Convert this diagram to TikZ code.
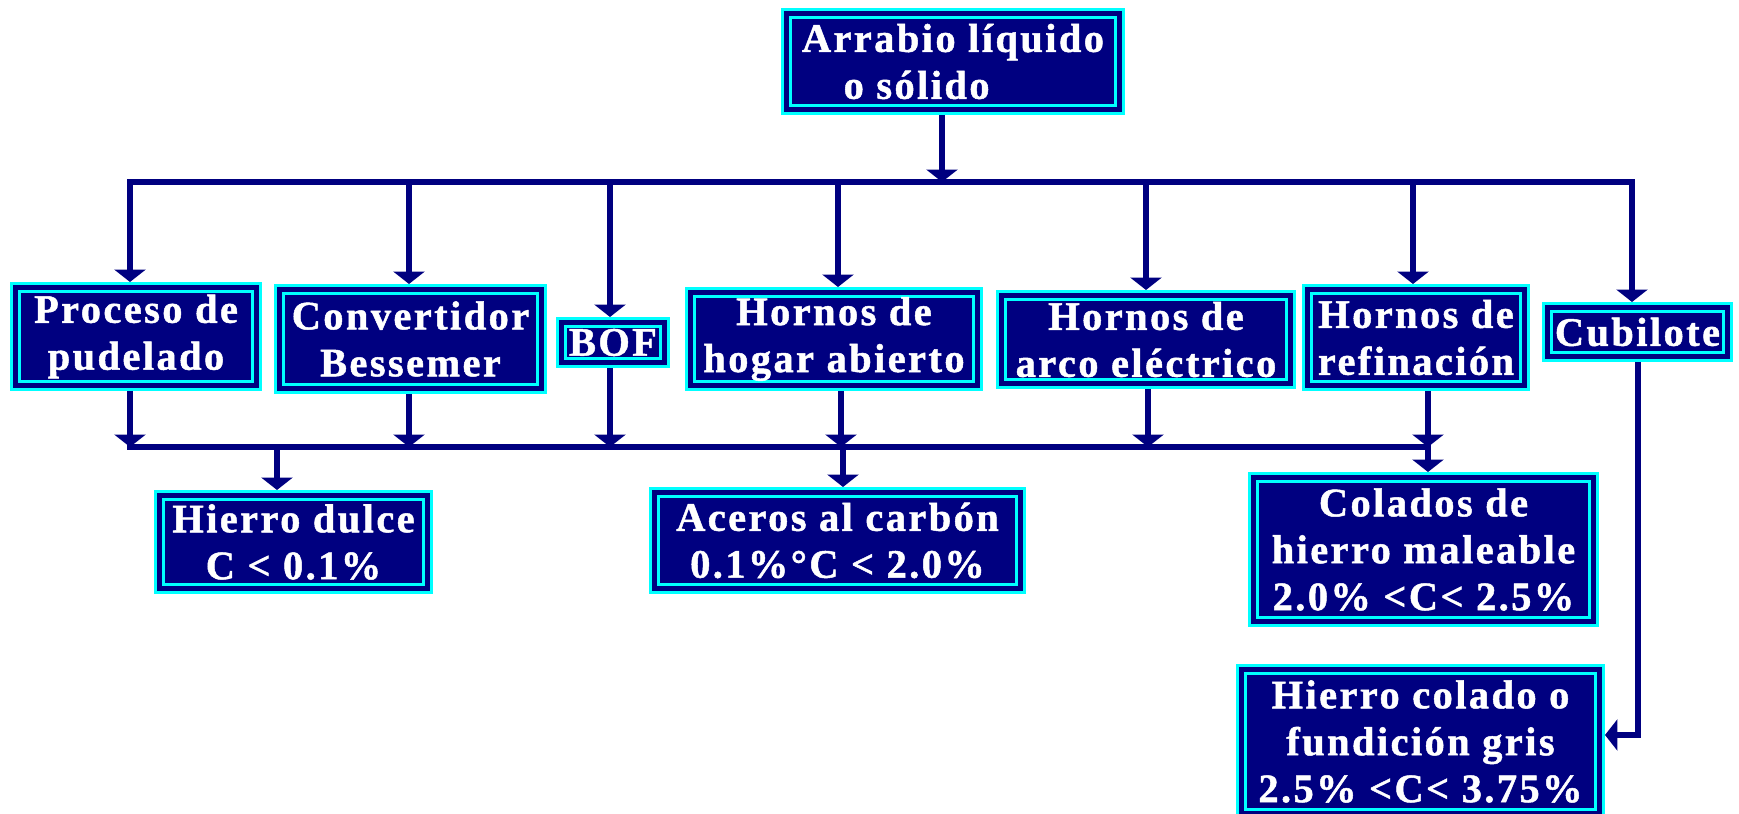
\documentclass[tikz,border=0pt]{standalone}
\usepackage{fontspec}
\usepackage{tikz}
\usetikzlibrary{arrows.meta,calc}
\newfontfamily\boxfont{Liberation Serif}[LetterSpace=6,BoldFeatures={FakeBold=1.2}]
\definecolor{marino}{RGB}{0,0,128}
\definecolor{celeste}{RGB}{0,255,255}

\begin{document}
\begin{tikzpicture}[>={Triangle[width=0.62cm,length=0.25cm]},x=0.02cm,y=-0.02cm,
                    line width=0.12cm,color=marino]
  \tikzstyle{caja}=[rectangle,fill=marino,draw=celeste,double=marino,line width=0.06cm,
                    double distance=0.1cm,text=white,align=center,inner sep=0pt,outer sep=0.11cm,
                    font=\boxfont\bfseries\fontsize{23}{26.7}\selectfont]
  \useasboundingbox (0,0) rectangle (1739,814);

  \node[caja,minimum width=6.66cm,minimum height=1.92cm] (Arr) at (953,61.5) {Arrabio líquido\\o sólido\hspace*{1.8em}};

  \node[caja,minimum width=4.82cm,minimum height=1.96cm] (Pud) at (136,336.5) {Proceso de\\pudelado};
  \node[caja,minimum width=5.24cm,minimum height=1.98cm] (Bes) at (410.5,339) {Convertidor\\Bessemer};
  \node[caja,minimum width=2.06cm,minimum height=0.80cm] (BOF) at (613,342.5) {BOF};
  \node[caja,minimum width=5.74cm,minimum height=1.86cm] (Hog) at (834,339) {Hornos de\\hogar abierto};
  \node[caja,minimum width=5.78cm,minimum height=1.76cm] (Arc) at (1146,339.5) {Hornos de\\arco eléctrico};
  \node[caja,minimum width=4.34cm,minimum height=1.92cm] (Ref) at (1416,337.5) {Hornos de\\refinación};
  \node[caja,minimum width=3.60cm,minimum height=0.98cm] (Cub) at (1637.5,332) {Cubilote};

  \node[caja,minimum width=5.36cm,minimum height=1.86cm] (Dul) at (293.5,542) {Hierro dulce\\C < 0.1\%};
  \node[caja,minimum width=7.32cm,minimum height=1.92cm] (Ace) at (837.5,540.5) {Aceros al carbón\\0.1\%°C < 2.0\%};
  \node[caja,minimum width=6.80cm,minimum height=2.88cm] (Col) at (1423.5,549.5) {Colados de\\hierro maleable\\2.0\% <C< 2.5\%};
  \node[caja,minimum width=7.16cm,minimum height=2.88cm] (Gri) at (1420.5,741.5) {Hierro colado o\\fundición gris\hspace*{0.5em}\\2.5\% <C< 3.75\%};

  % barra superior
  \coordinate (tb) at (942,182);
  \coordinate (t1) at (130,182);
  \coordinate (t2) at (409,182);
  \coordinate (g1) at (550,182);
  \coordinate (g2) at (553,182);
  \coordinate (t3) at (610,182);
  \coordinate (t4) at (838,182);
  \coordinate (t5) at (1146,182);
  \coordinate (t6) at (1413,182);
  \coordinate (t7) at (1632,182);
  % barra inferior
  \coordinate (b1) at (130,447);
  \coordinate (b2) at (409,447);
  \coordinate (b3) at (610,447);
  \coordinate (b4) at (841,447);
  \coordinate (b5) at (1148,447);
  \coordinate (b6) at (1428,447);
  \coordinate (d1) at (277,447);
  \coordinate (d2) at (843,447);

  \draw[line cap=rect] (t1) -- (g1) (g2) -- (t7);
  \draw[line cap=rect] (b1) -- (b6);

  \path[->] (tb |- Arr.south) edge (tb)
        (t1) edge (t1 |- Pud.north)
        (t2) edge (t2 |- Bes.north)
        (t3) edge (t3 |- BOF.north)
        (t4) edge (t4 |- Hog.north)
        (t5) edge (t5 |- Arc.north)
        (t6) edge (t6 |- Ref.north)
        (t7) edge (t7 |- Cub.north);

  \path[->] (b1 |- Pud.south) edge (b1)
        (b2 |- Bes.south) edge (b2)
        (b3 |- BOF.south) edge (b3)
        (b4 |- Hog.south) edge (b4)
        (b5 |- Arc.south) edge (b5)
        (b6 |- Ref.south) edge (b6);

  \path[->] (d1) edge (d1 |- Dul.north)
        (d2) edge (d2 |- Ace.north)
        (b6) edge (b6 |- Col.north);

  \draw[->] (Cub.south) |- ([yshift=0.13cm]Gri.east);
\end{tikzpicture}
\end{document}
